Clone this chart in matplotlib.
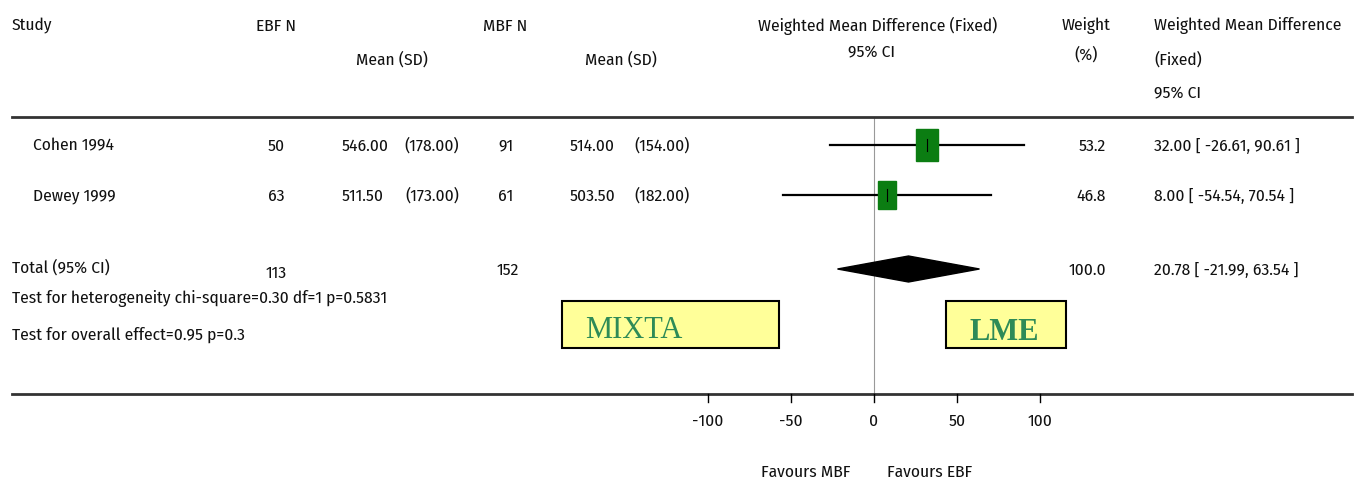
import matplotlib.pyplot as plt
from matplotlib.patches import Rectangle, Polygon

plt.rcParams['font.family'] = ['Fira Sans Condensed', 'DejaVu Sans']

# data
studies = ["Cohen 1994", "Dewey 1999"]
ebf_n = [50, 63]
ebf_mean = ["546.00", "511.50"]
ebf_sd = ["(178.00)", "(173.00)"]
mbf_n = [91, 61]
mbf_mean = ["514.00", "503.50"]
mbf_sd = ["(154.00)", "(182.00)"]
wmd = [32.00, 8.00]
ci_lo = [-26.61, -54.54]
ci_hi = [90.61, 70.54]
weight = [53.2, 46.8]

total_ebf = 113
total_mbf = 152
total_wmd = 20.78
total_lo = -21.99
total_hi = 63.54
total_weight = 100.0

xticks = [-100, -50, 0, 50, 100]

# layout: x in effect units (0 at pixel 874, 1.66 px per unit), y in pixels
PX0, SCALE = 874, 1.66
def X(px):
    return (px - PX0) / SCALE

fig = plt.figure(figsize=(13.6, 4.85), dpi=100)
ax = fig.add_axes([0, 0, 1, 1])
ax.set_xlim(X(0), X(1360))
ax.set_ylim(485, 0)
ax.axis('off')

fs = 12.5
col = '#111111'

# header
ax.text(X(12), 26, "Study", fontsize=fs, va='center', color=col)
ax.text(X(256), 26, "EBF N", fontsize=fs, va='center', color=col)
ax.text(X(356), 60, "Mean (SD)", fontsize=fs, va='center', color=col)
ax.text(X(483), 26, "MBF N", fontsize=fs, va='center', color=col)
ax.text(X(585), 60, "Mean (SD)", fontsize=fs, va='center', color=col)
ax.text(X(878), 26, "Weighted Mean Difference (Fixed)", fontsize=fs, va='center', ha='center', color=col)
ax.text(X(872), 53, "95% CI", fontsize=fs, va='center', ha='center', color=col)
ax.text(X(1086), 26, "Weight", fontsize=fs, va='center', ha='center', color=col)
ax.text(X(1086), 55, "(%)", fontsize=fs, va='center', ha='center', color=col)
ax.text(X(1154), 26, "Weighted Mean Difference", fontsize=fs, va='center', color=col)
ax.text(X(1154), 60, "(Fixed)", fontsize=fs, va='center', color=col)
ax.text(X(1154), 94, "95% CI", fontsize=fs, va='center', color=col)

ax.plot([X(12), X(1352)], [118, 118], color='#333333', lw=2)
ax.plot([0, 0], [118, 395], color='#999999', lw=0.8, zorder=1)

# study rows
row_y = [146, 196]
sq_w = [22, 18]
for i, y in enumerate(row_y):
    ax.text(X(33), y, studies[i], fontsize=fs, va='center', color=col)
    ax.text(X(276), y, str(ebf_n[i]), fontsize=fs, va='center', ha='center', color=col)
    ax.text(X(342), y, ebf_mean[i], fontsize=fs, va='center', color=col)
    ax.text(X(459), y, ebf_sd[i], fontsize=fs, va='center', ha='right', color=col)
    ax.text(X(506), y, str(mbf_n[i]), fontsize=fs, va='center', ha='center', color=col)
    ax.text(X(570), y, mbf_mean[i], fontsize=fs, va='center', color=col)
    ax.text(X(690), y, mbf_sd[i], fontsize=fs, va='center', ha='right', color=col)
    ax.text(X(1106), y, f"{weight[i]:.1f}", fontsize=fs, va='center', ha='right', color=col)
    ax.text(X(1154), y, f"{wmd[i]:.2f} [ {ci_lo[i]:.2f}, {ci_hi[i]:.2f} ]", fontsize=fs, va='center', color=col)
    ax.plot([ci_lo[i], ci_hi[i]], [y, y], color='black', lw=1.6, zorder=2)
    w = sq_w[i] / SCALE
    h = weight[i] * 0.6
    ax.add_patch(Rectangle((wmd[i] - w / 2, y - h / 2), w, h,
                           facecolor='#0b7d12', edgecolor='#0b7d12', zorder=3))
    ax.plot([wmd[i], wmd[i]], [y - 6, y + 6], color='black', lw=0.8, zorder=4)

# total row
ty = 270
ax.text(X(12), 268, "Total (95% CI)", fontsize=fs, va='center', color=col)
ax.text(X(276), 273, str(total_ebf), fontsize=fs, va='center', ha='center', color=col)
ax.text(X(508), 270, str(total_mbf), fontsize=fs, va='center', ha='center', color=col)
ax.text(X(1106), 270, f"{total_weight:.1f}", fontsize=fs, va='center', ha='right', color=col)
ax.text(X(1154), 270, f"{total_wmd:.2f} [ {total_lo:.2f}, {total_hi:.2f} ]", fontsize=fs, va='center', color=col)
ax.add_patch(Polygon([(total_lo, ty), (total_wmd, ty - 13), (total_hi, ty), (total_wmd, ty + 13)],
                     closed=True, facecolor='black', edgecolor='black', zorder=3))

ax.text(X(12), 299, "Test for heterogeneity chi-square=0.30 df=1 p=0.5831", fontsize=fs, va='center', color=col)
ax.text(X(12), 335, "Test for overall effect=0.95 p=0.3", fontsize=fs, va='center', color=col)

# label boxes
ax.add_patch(Rectangle((X(562), 302), (779 - 562) / SCALE, 47,
                       facecolor='#ffff99', edgecolor='black', lw=1.5, zorder=2))
ax.text(X(585), 331, "MIXTA", fontsize=22, family='Liberation Serif', color='#2e8b57',
        va='center', zorder=3)
ax.add_patch(Rectangle((X(946), 302), (1066 - 946) / SCALE, 47,
                       facecolor='#ffff99', edgecolor='black', lw=1.5, zorder=2))
ax.text(X(1004), 333, "LME", fontsize=22, family='Liberation Serif', weight='bold',
        color='#2e8b57', va='center', ha='center', zorder=3)

# bottom axis
ax.plot([X(12), X(1352)], [395, 395], color='#333333', lw=2)
for t in xticks:
    ax.plot([t, t], [395, 403], color='black', lw=1)
    ax.text(t, 421, str(t), fontsize=fs, va='center', ha='center', color=col)
ax.text(X(806), 472, "Favours MBF", fontsize=fs, va='center', ha='center', color=col)
ax.text(X(930), 472, "Favours EBF", fontsize=fs, va='center', ha='center', color=col)

fig.savefig("out.png", dpi=100)
